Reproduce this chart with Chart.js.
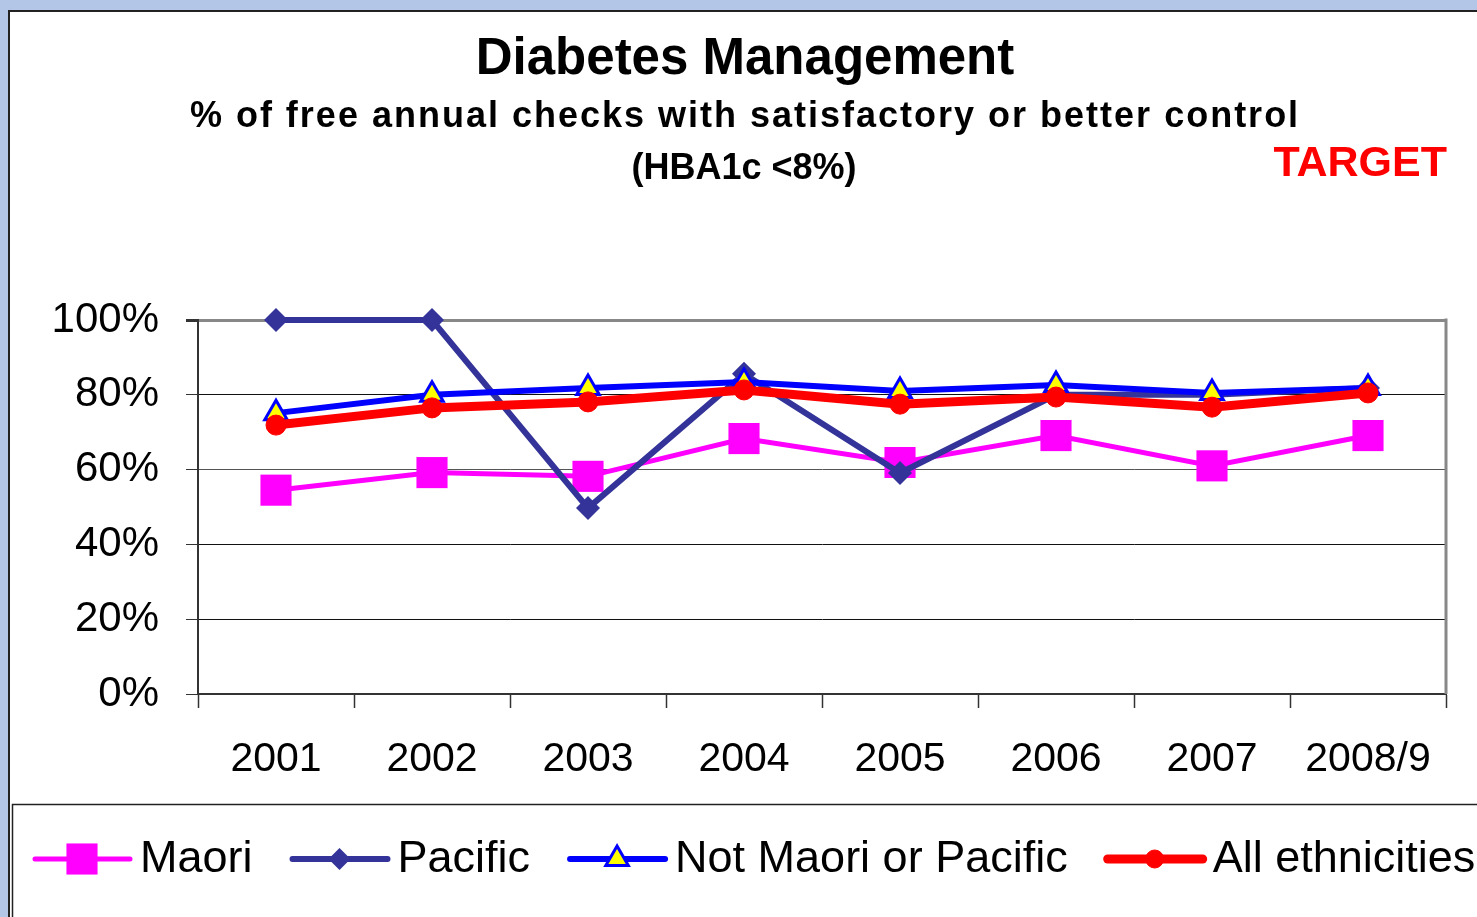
<!DOCTYPE html>
<html>
<head>
<meta charset="utf-8">
<script src="https://cdn.jsdelivr.net/npm/chart.js@4/dist/chart.umd.min.js"></script>
<style>
  html, body { margin: 0; padding: 0; background: #b4c6e7; }
  canvas { display: block; }
</style>
</head>
<body>
<canvas id="myChart" width="1477" height="917"></canvas>
<script>
const years = ["2001", "2002", "2003", "2004", "2005", "2006", "2007", "2008/9"];
const maori = [54.5, 59.2, 58.2, 68.3, 61.9, 69.1, 61.0, 69.1];
const pacific = [100, 100, 49.7, 85.6, 59.1, 80.0, 80.0, 81.8];
const notMaoriPacific = [75.1, 80.0, 81.8, 83.4, 81.0, 82.6, 80.5, 81.8];
const allEthnicities = [71.9, 76.5, 78.1, 81.3, 77.5, 79.4, 76.7, 80.5];
const yTicks = [0, 20, 40, 60, 80, 100];

const FONT = "'Liberation Sans', Arial, sans-serif";

// draw one marker, same shapes as chart.js uses
function marker(ctx, style, x, y, r, fill, stroke, bw) {
    ctx.save();
    ctx.beginPath();
    if (style === 'rect') {
        const s = Math.SQRT1_2 * r;
        ctx.rect(x - s, y - s, 2 * s, 2 * s);
    } else if (style === 'rectRot') {
        ctx.moveTo(x - r, y);
        ctx.lineTo(x, y - r);
        ctx.lineTo(x + r, y);
        ctx.lineTo(x, y + r);
        ctx.closePath();
    } else if (style === 'triangle') {
        ctx.moveTo(x, y - r);
        ctx.lineTo(x + Math.sin(2 * Math.PI / 3) * r, y + r / 2);
        ctx.lineTo(x - Math.sin(2 * Math.PI / 3) * r, y + r / 2);
        ctx.closePath();
    } else {
        ctx.arc(x, y, r, 0, Math.PI * 2);
    }
    ctx.fillStyle = fill;
    ctx.fill();
    if (bw) {
        ctx.lineWidth = bw;
        ctx.strokeStyle = stroke;
        ctx.stroke();
    }
    ctx.restore();
}

const framePlugin = {
    id: 'frame',
    beforeDraw(chart) {
        const ctx = chart.ctx;
        const w = chart.width, h = chart.height;
        ctx.save();
        ctx.fillStyle = '#b4c6e7';
        ctx.fillRect(0, 0, w, h);
        ctx.fillStyle = '#ffffff';
        ctx.fillRect(8, 10, w, h);
        ctx.strokeStyle = '#222';
        ctx.lineWidth = 2;
        ctx.beginPath();
        ctx.moveTo(9, h);
        ctx.lineTo(9, 11);
        ctx.lineTo(w, 11);
        ctx.stroke();
        // legend box
        ctx.lineWidth = 1.5;
        ctx.beginPath();
        ctx.moveTo(12.5, h);
        ctx.lineTo(12.5, 804.5);
        ctx.lineTo(w, 804.5);
        ctx.stroke();
        ctx.restore();
    },
    afterDraw(chart) {
        const ctx = chart.ctx;
        const area = chart.chartArea;
        ctx.save();
        // right side of plot box
        ctx.strokeStyle = '#888';
        ctx.lineWidth = 3;
        ctx.beginPath();
        ctx.moveTo(area.right, area.top - 1.5);
        ctx.lineTo(area.right, area.bottom);
        ctx.stroke();

        // titles
        ctx.fillStyle = '#000';
        ctx.textAlign = 'center';
        ctx.textBaseline = 'middle';
        ctx.font = 'bold 51px ' + FONT;
        ctx.fillText('Diabetes Management', 745, 60);
        ctx.font = 'bold 36px ' + FONT;
        ctx.letterSpacing = '2px';
        ctx.fillText('% of free annual checks with satisfactory or better control', 745, 117);
        ctx.letterSpacing = '0px';
        ctx.font = 'bold 36px ' + FONT;
        ctx.fillText('(HBA1c <8%)', 744, 169);
        ctx.fillStyle = '#ff0000';
        ctx.textAlign = 'right';
        ctx.font = 'bold 43px ' + FONT;
        ctx.fillText('TARGET', 1447, 164);

        // legend
        ctx.textAlign = 'left';
        ctx.font = '45px ' + FONT;
        let x = 35;
        const y = 859;
        chart.data.datasets.forEach(ds => {
            ctx.strokeStyle = ds.borderColor;
            ctx.lineWidth = ds.borderWidth;
            ctx.lineCap = 'round';
            ctx.beginPath();
            ctx.moveTo(x, y);
            ctx.lineTo(x + 95, y);
            ctx.stroke();
            marker(ctx, ds.pointStyle, x + 47, y, ds.legendRadius,
                ds.pointBackgroundColor, ds.pointBorderColor, ds.pointBorderWidth);
            ctx.fillStyle = '#000';
            ctx.fillText(ds.label, x + 105, y + 1);
            x += 105 + ctx.measureText(ds.label).width + 40;
        });
        ctx.restore();
    }
};

const data = {
    labels: years,
    datasets: [{
        label: 'Maori',
        data: maori,
        borderColor: '#ff00ff',
        borderWidth: 5,
        pointStyle: 'rect',
        pointRadius: 22,
        legendRadius: 22,
        pointBackgroundColor: '#ff00ff',
        pointBorderColor: '#ff00ff',
        pointBorderWidth: 0,
        order: 4
    }, {
        label: 'Pacific',
        data: pacific,
        borderColor: '#333399',
        borderWidth: 6,
        pointStyle: 'rectRot',
        pointRadius: 12,
        legendRadius: 11,
        pointBackgroundColor: '#333399',
        pointBorderColor: '#333399',
        pointBorderWidth: 0,
        order: 3
    }, {
        label: 'Not Maori or Pacific',
        data: notMaoriPacific,
        borderColor: '#0000ff',
        borderWidth: 6,
        pointStyle: 'triangle',
        pointRadius: 13,
        legendRadius: 13,
        pointBackgroundColor: '#ffff00',
        pointBorderColor: '#0000ff',
        pointBorderWidth: 3,
        order: 2
    }, {
        label: 'All ethnicities',
        data: allEthnicities,
        borderColor: '#ff0000',
        borderWidth: 9,
        pointStyle: 'circle',
        pointRadius: 10,
        legendRadius: 9,
        pointBackgroundColor: '#ff0000',
        pointBorderColor: '#ff0000',
        pointBorderWidth: 1,
        order: 1
    }]
};

const config = {
    type: 'line',
    data: data,
    options: {
        responsive: false,
        animation: false,
        layout: {
            padding: { left: 0, top: 320, right: 31, bottom: 123 }
        },
        elements: {
            line: { tension: 0 }
        },
        datasets: {
            line: { clip: false }
        },
        scales: {
            x: {
                offset: true,
                afterFit: s => { s.height = 100; },
                grid: {
                    offset: true,
                    drawOnChartArea: false,
                    tickLength: 14,
                    tickColor: '#333',
                    tickWidth: 1.5
                },
                border: { color: '#333', width: 2 },
                ticks: {
                    color: '#000',
                    padding: 27,
                    font: { family: FONT, size: 41 }
                }
            },
            y: {
                min: 0,
                max: 100,
                afterFit: s => { s.width = 198; },
                afterBuildTicks: s => { s.ticks = yTicks.map(v => ({ value: v })); },
                grid: {
                    color: c => c.tick && c.tick.value === 100 ? '#888' : (c.tick && c.tick.value === 60 ? '#555' : '#111'),
                    lineWidth: c => c.tick && c.tick.value === 100 ? 3 : 1,
                    tickLength: 12,
                    tickColor: '#333'
                },
                border: { color: '#333', width: 2 },
                ticks: {
                    color: '#000',
                    padding: 27,
                    font: { family: FONT, size: 42 },
                    callback: v => v + '%'
                }
            }
        },
        plugins: {
            legend: { display: false },
            title: { display: false },
            tooltip: { enabled: false }
        }
    },
    plugins: [framePlugin]
};

var myChart = new Chart(document.getElementById('myChart'), config);
</script>
</body>
</html>
